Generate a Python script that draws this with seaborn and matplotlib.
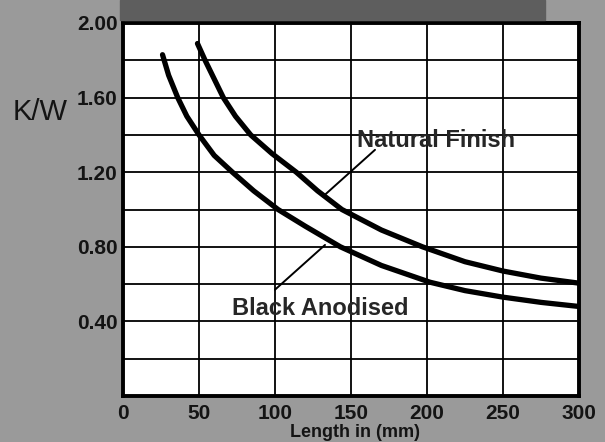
import matplotlib
matplotlib.use("Agg")
import matplotlib.pyplot as plt
import seaborn as sns
import pandas as pd
from matplotlib.patches import Rectangle

# values
black_len = [26, 30, 36, 42, 50, 60, 72, 86, 102, 120, 143, 170, 202, 225, 250, 275, 300]
black_kw = [1.83, 1.72, 1.60, 1.50, 1.40, 1.29, 1.20, 1.10, 1.00, 0.91, 0.80, 0.70, 0.61, 0.565, 0.53, 0.502, 0.48]
natural_len = [49, 54, 60, 66, 74, 84, 98, 114, 128, 144, 170, 197, 225, 250, 275, 300]
natural_kw = [1.89, 1.80, 1.70, 1.60, 1.50, 1.40, 1.30, 1.20, 1.10, 1.00, 0.89, 0.80, 0.72, 0.67, 0.632, 0.605]
x_ticks = [0, 50, 100, 150, 200, 250, 300]
y_ticks = [0.40, 0.80, 1.20, 1.60, 2.00]

df = pd.concat([
    pd.DataFrame({"length": black_len, "kw": black_kw, "finish": "Black Anodised"}),
    pd.DataFrame({"length": natural_len, "kw": natural_kw, "finish": "Natural Finish"}),
])

sns.set_style("white")
plt.rcParams["font.family"] = ["Liberation Sans", "DejaVu Sans"]

fig = plt.figure(figsize=(6.05, 4.42), dpi=100, facecolor="#9a9a9a")
# darker band along the top edge
fig.patches.append(Rectangle((120 / 605, 1 - 20 / 442), 425 / 605, 20 / 442,
                             transform=fig.transFigure, color="#5e5e5e", zorder=0))
ax = fig.add_axes([123 / 605, 1 - 396 / 442, 456 / 605, 373 / 442])
ax.set_facecolor("white")

sns.lineplot(data=df, x="length", y="kw", units="finish", estimator=None,
             color="black", linewidth=3.8, legend=False, ax=ax, zorder=3)
for ln in ax.get_lines():
    ln.set_solid_joinstyle("round")

ax.set_xlim(0, 300)
ax.set_ylim(0, 2.0)
ax.set_xticks(x_ticks)
grid_y = [i * 0.2 for i in range(11)]
ax.set_yticks(grid_y)
ax.set_yticklabels(["%.2f" % v if any(abs(v - t) < 1e-6 for t in y_ticks) else "" for v in grid_y])
ax.grid(True, color="black", linewidth=1.3)
ax.tick_params(length=0, labelsize=15, colors="#141414")
ax.tick_params(axis="x", pad=6)
ax.tick_params(axis="y", pad=4)
for lab in ax.get_xticklabels() + ax.get_yticklabels():
    lab.set_fontweight("bold")
for sp in ax.spines.values():
    sp.set_color("black")
    sp.set_linewidth(2.8)
ax.set_xlabel("")
ax.set_ylabel("")

# annotations with leader lines
ax.plot([165.8, 131.6], [1.32, 1.07], color="black", linewidth=1.4, zorder=2)
ax.plot([132.9, 100.0], [0.81, 0.57], color="black", linewidth=1.4, zorder=2)
ax.text(154, 1.37, "Natural Finish", fontsize=17, fontweight="bold", va="center", ha="left")
ax.text(72, 0.47, "Black Anodised", fontsize=17, fontweight="bold", va="center", ha="left")

fig.text(13 / 605, 1 - 112 / 442, "K/W", fontsize=21, va="center", ha="left", color="#141414")
fig.text(355 / 605, 1 / 442, "Length in (mm)", fontsize=13, fontweight="bold",
         va="bottom", ha="center", color="#141414")

fig.savefig("out.png", dpi=100, facecolor=fig.get_facecolor())
